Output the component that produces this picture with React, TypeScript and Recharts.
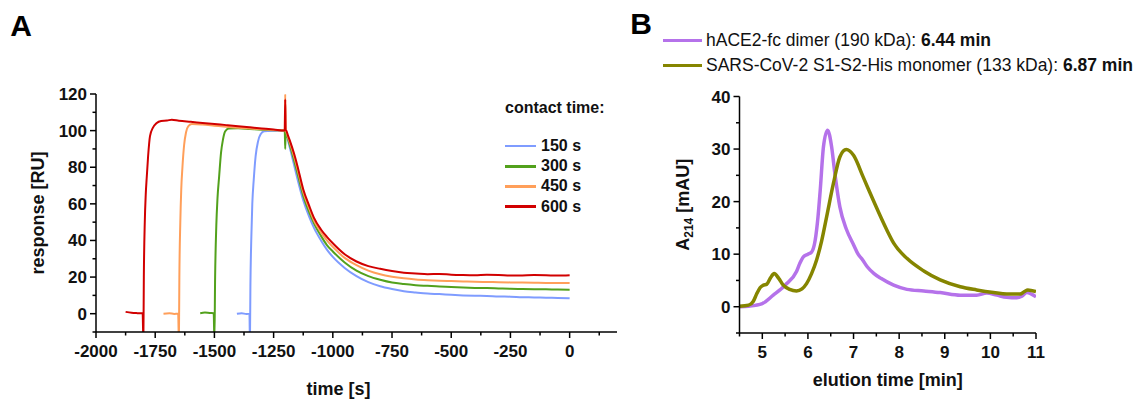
import React from "react";
import { LineChart, Line, XAxis, YAxis } from "recharts";

const FONT = '"Liberation Sans", Arial, Helvetica, sans-serif';

// ---------- panel A: SPR sensorgrams (time [s] vs response [RU])
const timeMajor = [-2000, -1750, -1500, -1250, -1000, -750, -500, -250, 0];
const timeMinor = [-1875, -1625, -1375, -1125, -875, -625, -375, -125, 125];
const respMajor = [0, 20, 40, 60, 80, 100, 120];
const respMinor = [-10, 10, 30, 50, 70, 90, 110];

// dissociation phase, shared time grid
const dissocTime = [
  -1197, -1190, -1180, -1165, -1150, -1125, -1100, -1080, -1050, -1025, -1000, -950, -900, -850, -800, -750,
  -700, -650, -600, -550, -500, -450, -400, -350, -300, -250, -200, -150, -100, -50, 0,
];

// 150 s contact
const assocTime150 = [-1405, -1385, -1365, -1352, -1350, -1348, -1344, -1340, -1334, -1326, -1316, -1305, -1290, -1250, -1203, -1201, -1199];
const assocResp150 = [0, 0.3, -0.2, 0, -15, 15, 42, 60, 73, 86, 94, 98, 99.6, 99.9, 100, 97, 100];
const dissocResp150 = [
  99, 95, 90, 82, 74, 62, 53, 47, 40, 35, 31, 25, 20.5, 17.2, 15, 13.5,
  12.3, 11.6, 11, 10.7, 10.3, 10, 9.8, 9.7, 9.4, 9.3, 9.0, 8.9, 8.7, 8.6, 8.4,
];

// 300 s contact
const assocTime300 = [-1560, -1540, -1520, -1503, -1500, -1497, -1492, -1487, -1480, -1472, -1464, -1455, -1440, -1400, -1350, -1300, -1250, -1203, -1201, -1199];
const assocResp300 = [0.3, 0.6, 0.4, 0.3, -15, 20, 48, 63, 75, 88, 95, 99.5, 101.2, 101.3, 100.9, 100.5, 100.2, 100, 90, 100];
const dissocResp300 = [
  99, 96, 91.5, 84.5, 77, 64.5, 55.5, 49.5, 42.5, 37.5, 34, 28, 23.5, 20.5, 18.5, 17,
  16.2, 15.6, 15.2, 14.8, 14.6, 14.3, 14.1, 14, 13.8, 13.6, 13.5, 13.4, 13.3, 13.2, 13.1,
];

// 450 s contact
const assocTime450 = [-1715, -1690, -1670, -1653, -1650, -1648, -1644, -1640, -1635, -1628, -1620, -1610, -1595, -1550, -1500, -1450, -1400, -1350, -1300, -1250, -1203, -1201, -1199];
const assocResp450 = [0, 0.2, -0.1, 0, -15, 20, 50, 68, 80, 92, 99, 102.5, 103.6, 103.3, 102.7, 102.1, 101.6, 101.1, 100.7, 100.3, 100, 120, 100];
const dissocResp450 = [
  99.5, 96.5, 93, 86.5, 79.5, 66.5, 57.5, 51, 44.5, 40, 36.5, 30.5, 26.5, 23.5, 21.5, 20.2,
  19.3, 18.7, 18.3, 18, 17.8, 17.6, 17.4, 17.3, 17.2, 17.1, 17, 16.9, 16.8, 16.8, 16.7,
];

// 600 s contact
const assocTime600 = [-1875, -1850, -1825, -1803, -1800, -1798, -1794, -1790, -1786, -1780, -1772, -1760, -1745, -1725, -1700, -1680, -1650, -1600, -1550, -1500, -1450, -1400, -1350, -1300, -1250, -1203, -1201, -1199];
const assocResp600 = [1, 0.5, 0.3, 0.2, -15, 20, 50, 65, 74, 86, 97, 101.5, 104, 105.3, 105.5, 106, 105.4, 104.8, 104.2, 103.6, 103, 102.4, 101.8, 101.2, 100.6, 100, 117, 100];
const dissocResp600 = [
  100, 97.5, 94, 88, 81, 68, 59, 52.5, 46, 42, 38.5, 32.5, 28.5, 26, 24.5, 23.3,
  22.4, 22, 21.6, 21.7, 21.3, 21.1, 21, 21.3, 21.2, 20.8, 20.9, 21.1, 21, 20.8, 21,
];

const zip = (t: number[], v: number[]) => t.map((x, i) => ({ t: x, v: v[i] }));

const seriesA = [
  { name: "150 s", color: "#7f9cff", data: zip([...assocTime150, ...dissocTime], [...assocResp150, ...dissocResp150]) },
  { name: "300 s", color: "#52a11c", data: zip([...assocTime300, ...dissocTime], [...assocResp300, ...dissocResp300]) },
  { name: "450 s", color: "#ff9f5a", data: zip([...assocTime450, ...dissocTime], [...assocResp450, ...dissocResp450]) },
  { name: "600 s", color: "#d10000", data: zip([...assocTime600, ...dissocTime], [...assocResp600, ...dissocResp600]) },
];

// ---------- panel B: SEC chromatograms (elution time [min] vs A214 [mAU])
const elutionMajor = [5, 6, 7, 8, 9, 10, 11];
const elutionMinor = [4.5, 5.5, 6.5, 7.5, 8.5, 9.5, 10.5];
const absMajor = [0, 10, 20, 30, 40];
const absMinor = [-5, 5, 15, 25, 35];

const aceTime = [
  4.5, 4.7, 5.0, 5.24, 5.5, 5.75, 5.82, 5.9, 6.0, 6.08, 6.16, 6.22, 6.27, 6.34, 6.43, 6.52, 6.59, 6.7, 6.85, 7.0,
  7.1, 7.2, 7.3, 7.45, 7.6, 7.88, 8.17, 8.54, 8.9, 9.34, 9.7, 9.92, 10.14, 10.36, 10.58, 10.69, 10.8, 10.9, 11.0,
];
const aceAbs = [
  0, 0.1, 0.6, 2.2, 4.1, 6.7, 8.2, 9.5, 10.0, 10.4, 12.7, 17, 22.2, 30.4, 33.6, 30.4, 25.4, 19, 14.6, 11.8,
  10, 8.9, 7.6, 6.3, 5.4, 4.1, 3.3, 3.0, 2.7, 2.2, 2.2, 2.6, 2.2, 1.8, 1.7, 2.0, 2.7, 2.4, 1.9,
];

const spikeTime = [
  4.5, 4.7, 4.8, 4.88, 4.95, 5.02, 5.1, 5.18, 5.26, 5.36, 5.46, 5.6, 5.75, 5.87, 5.97, 6.08, 6.19, 6.3, 6.41, 6.56,
  6.7, 6.84, 7.0, 7.21, 7.43, 7.73, 7.88, 8.17, 8.54, 8.9, 9.34, 9.7, 10.07, 10.36, 10.65, 10.75, 10.82, 11.0,
];
const spikeAbs = [
  0.1, 0.3, 1.0, 2.5, 3.6, 4.1, 4.3, 5.5, 6.3, 5.4, 4.1, 3.3, 3.0, 3.4, 4.4, 6.3, 8.9, 12.5, 17.1, 23.5,
  28.5, 29.9, 28.8, 24.7, 20.3, 14.6, 12.1, 9.2, 6.8, 5.1, 3.8, 3.2, 2.7, 2.4, 2.4, 2.9, 3.2, 2.9,
];

const seriesB = [
  { name: "hACE2-fc dimer (190 kDa): ", peak: "6.44 min", color: "#b572ea", data: zip(aceTime, aceAbs) },
  { name: "SARS-CoV-2 S1-S2-His monomer (133 kDa): ", peak: "6.87 min", color: "#858500", data: zip(spikeTime, spikeAbs) },
];

// ---------- axis helpers
const tickText = { fontFamily: FONT, fontSize: 17, fontWeight: "bold" as const, fill: "#111" };
const titleText = { ...tickText, fontSize: 18 };

const bottomTick = (majors: number[]) => (props: any) => {
  const { x, y, payload } = props;
  const major = majors.includes(payload.value);
  return (
    <g>
      <line x1={x} x2={x} y1={y} y2={y + (major ? 6 : 3.5)} stroke="#000" strokeWidth={1.5} />
      {major && (
        <text x={x} y={y + 25} textAnchor="middle" {...tickText}>
          {payload.value}
        </text>
      )}
    </g>
  );
};

const leftTick = (majors: number[]) => (props: any) => {
  const { x, y, payload } = props;
  const major = majors.includes(payload.value);
  return (
    <g>
      <line x1={x} x2={x - (major ? 6 : 3.5)} y1={y} y2={y} stroke="#000" strokeWidth={1.5} />
      {major && (
        <text x={x - 9} y={y + 6} textAnchor="end" {...tickText}>
          {payload.value}
        </text>
      )}
    </g>
  );
};

const yTitle = (dx: number, dy: number, body: React.ReactNode) => (props: any) => {
  const { x, y, height } = props.viewBox;
  const cx = x + dx;
  const cy = y + height / 2 + dy;
  return (
    <text x={cx} y={cy} transform={`rotate(-90 ${cx} ${cy})`} textAnchor="middle" {...titleText}>
      {body}
    </text>
  );
};

const axisLine = { stroke: "#000", strokeWidth: 1.5 };

const letterStyle: React.CSSProperties = {
  fontFamily: FONT,
  fontSize: 30,
  fontWeight: "bold",
  lineHeight: "30px",
  color: "#000",
  width: 40,
  textAlign: "right",
};

function PanelA() {
  return (
    <div style={{ position: "absolute", left: 0, top: 0, width: 640, height: 400 }}>
      <LineChart width={640} height={400} margin={{ top: 94, right: 23, bottom: 8, left: 36 }}>
        <XAxis
          type="number"
          dataKey="t"
          domain={[-2000, 200]}
          allowDataOverflow
          ticks={[...timeMajor, ...timeMinor].sort((a, b) => a - b)}
          interval={0}
          height={60}
          tickSize={0}
          tickMargin={0}
          tickLine={false}
          axisLine={axisLine}
          tick={bottomTick(timeMajor)}
          label={{ value: "time [s]", position: "insideBottom", offset: -3, dx: -18, ...titleText }}
        />
        <YAxis
          type="number"
          dataKey="v"
          domain={[-10, 120]}
          allowDataOverflow
          ticks={[...respMajor, ...respMinor].sort((a, b) => a - b)}
          interval={0}
          width={60}
          tickSize={0}
          tickMargin={0}
          tickLine={false}
          axisLine={axisLine}
          tick={leftTick(respMajor)}
          label={yTitle(8, 0, "response [RU]")}
        />
        {seriesA.map((s) => (
          <Line
            key={s.name}
            data={s.data}
            dataKey="v"
            type="monotone"
            stroke={s.color}
            strokeWidth={2}
            dot={false}
            isAnimationActive={false}
          />
        ))}
      </LineChart>
      <div style={{ position: "absolute", left: -8, top: 11, ...letterStyle }}>A</div>
      <div style={{ position: "absolute", left: 505, top: 98, fontFamily: FONT, fontSize: 16, fontWeight: "bold", color: "#111" }}>
        <div style={{ height: 20, lineHeight: "20px", marginBottom: 18, whiteSpace: "nowrap" }}>contact time:</div>
        {seriesA.map((s) => (
          <div key={s.name} style={{ display: "flex", alignItems: "center", height: 20.2 }}>
            <span style={{ display: "inline-block", width: 31, height: 2.5, background: s.color, marginRight: 5 }} />
            <span style={{ lineHeight: "20px" }}>{s.name}</span>
          </div>
        ))}
      </div>
    </div>
  );
}

function PanelB() {
  return (
    <div style={{ position: "absolute", left: 640, top: 0, width: 495, height: 400 }}>
      <LineChart width={495} height={400} margin={{ top: 96.5, right: 99, bottom: 7, left: 39.5 }}>
        <XAxis
          type="number"
          dataKey="t"
          domain={[4.5, 11]}
          allowDataOverflow
          ticks={[...elutionMajor, ...elutionMinor].sort((a, b) => a - b)}
          interval={0}
          height={60}
          tickSize={0}
          tickMargin={0}
          tickLine={false}
          axisLine={axisLine}
          tick={bottomTick(elutionMajor)}
          label={{ value: "elution time [min]", position: "insideBottom", offset: 7, ...titleText }}
        />
        <YAxis
          type="number"
          dataKey="v"
          domain={[-5, 40]}
          allowDataOverflow
          ticks={[...absMajor, ...absMinor].sort((a, b) => a - b)}
          interval={0}
          width={60}
          tickSize={0}
          tickMargin={0}
          tickLine={false}
          axisLine={axisLine}
          tick={leftTick(absMajor)}
          label={yTitle(
            9.5,
            -10,
            <>
              A<tspan dy={4} fontSize={12}>214</tspan>
              <tspan dy={-4}> [mAU]</tspan>
            </>
          )}
        />
        {seriesB.map((s) => (
          <Line
            key={s.name}
            data={s.data}
            dataKey="v"
            type="monotone"
            stroke={s.color}
            strokeWidth={3.5}
            dot={false}
            isAnimationActive={false}
          />
        ))}
      </LineChart>
      <div style={{ position: "absolute", left: -28, top: 9, ...letterStyle }}>B</div>
      <div style={{ position: "absolute", left: 23, top: 28, fontFamily: FONT, fontSize: 17.5, color: "#111" }}>
        {seriesB.map((s) => (
          <div key={s.name} style={{ display: "flex", alignItems: "center", height: 25.3, whiteSpace: "nowrap" }}>
            <span style={{ display: "inline-block", width: 39, height: 3, background: s.color, marginRight: 4 }} />
            <span>
              {s.name}
              <b>{s.peak}</b>
            </span>
          </div>
        ))}
      </div>
    </div>
  );
}

export default function App() {
  return (
    <div style={{ position: "absolute", left: 0, top: 0, width: 1135, height: 400, background: "#fff", overflow: "hidden" }}>
      <PanelA />
      <PanelB />
    </div>
  );
}
